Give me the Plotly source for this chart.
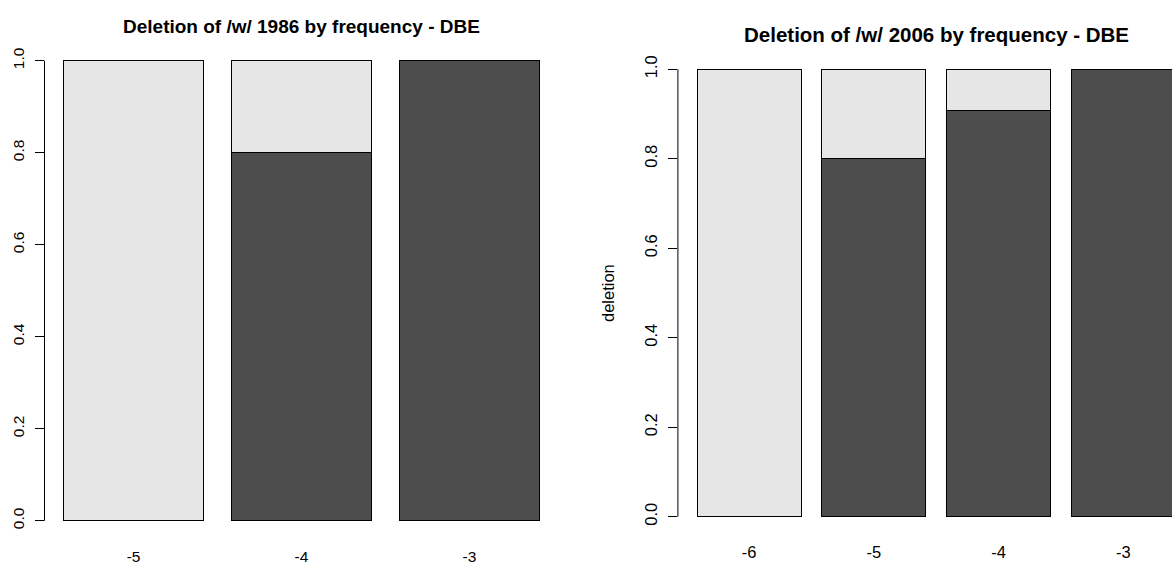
import plotly.graph_objects as go

# Proportion of tokens with /w/ deleted, per frequency band
freq_1986 = ["-5", "-4", "-3"]
deleted_1986 = [0.0, 0.8, 1.0]

freq_2006 = ["-6", "-5", "-4", "-3"]
deleted_2006 = [0.0, 0.8, 0.909, 1.0]

y_ticks = [0.0, 0.2, 0.4, 0.6, 0.8, 1.0]

DARK = "#4d4d4d"
LIGHT = "#e6e6e6"
FONT = "Liberation Sans, Arial, Helvetica, sans-serif"
W, H = 1172, 565

fig = go.Figure()


def add_panel(cats, deleted, xa, ya):
    kept = [1 - d for d in deleted]
    fig.add_trace(go.Bar(x=cats, y=deleted, marker=dict(color=DARK, line=dict(color="black", width=1)),
                         xaxis=xa, yaxis=ya, showlegend=False))
    fig.add_trace(go.Bar(x=cats, y=kept, marker=dict(color=LIGHT, line=dict(color="black", width=1)),
                         xaxis=xa, yaxis=ya, showlegend=False))


add_panel(freq_1986, deleted_1986, "x", "y")
add_panel(freq_2006, deleted_2006, "x2", "y2")

xcommon = dict(type="category", showgrid=False, zeroline=False, showline=False, ticks="",
               tickfont=dict(family=FONT, color="black"))
ycommon = dict(range=[-0.04, 1.04], tickvals=y_ticks, tickformat=".1f", tickangle=-90,
               showgrid=False, zeroline=False, showline=False, ticks="outside",
               ticklen=9, tickcolor="black", tickwidth=1)

fig.update_layout(
    width=W, height=H, margin=dict(l=0, r=0, t=0, b=0),
    paper_bgcolor="white", plot_bgcolor="white",
    barmode="stack", bargap=0.2 / 1.2,
    xaxis=dict(xcommon, domain=[44.5 / W, 558.5 / W], range=[-0.53, 2.53], anchor="y",
               ticklabelstandoff=6, tickfont=dict(family=FONT, color="black", size=15.5)),
    yaxis=dict(ycommon, domain=[1 - 539.1 / H, 1 - 42.3 / H], anchor="x",
               ticklabelstandoff=4, tickfont=dict(family=FONT, color="black", size=15.5)),
    xaxis2=dict(xcommon, domain=[677.9 / W, 1.0], range=[-0.57, 3.389], anchor="y2",
                ticklabelstandoff=6, tickfont=dict(family=FONT, color="black", size=16.5)),
    yaxis2=dict(ycommon, domain=[1 - 534.6 / H, 1 - 51.4 / H], anchor="x2",
                ticklabelstandoff=4, tickfont=dict(family=FONT, color="black", size=16.5)),
    shapes=[
        dict(type="line", xref="x domain", yref="y", x0=0, x1=0, y0=0, y1=1,
             line=dict(color="black", width=1)),
        dict(type="line", xref="x2 domain", yref="y2", x0=0, x1=0, y0=0, y1=1,
             line=dict(color="black", width=1)),
    ],
    annotations=[
        dict(text="<b>Deletion of /w/ 1986 by frequency - DBE</b>", xref="paper", yref="paper",
             x=301.5 / W, y=1 - 27 / H, xanchor="center", yanchor="middle", showarrow=False,
             font=dict(family=FONT, size=19, color="black")),
        dict(text="<b>Deletion of /w/ 2006 by frequency - DBE</b>", xref="paper", yref="paper",
             x=936 / W, y=1 - 34 / H, xanchor="center", yanchor="middle", showarrow=False,
             font=dict(family=FONT, size=20.5, color="black")),
        dict(text="deletion", xref="paper", yref="y2 domain", x=608 / W, y=0.5,
             xanchor="center", yanchor="middle", textangle=-90, showarrow=False,
             font=dict(family=FONT, size=16.5, color="black")),
    ],
)

fig.write_html("out.html")
